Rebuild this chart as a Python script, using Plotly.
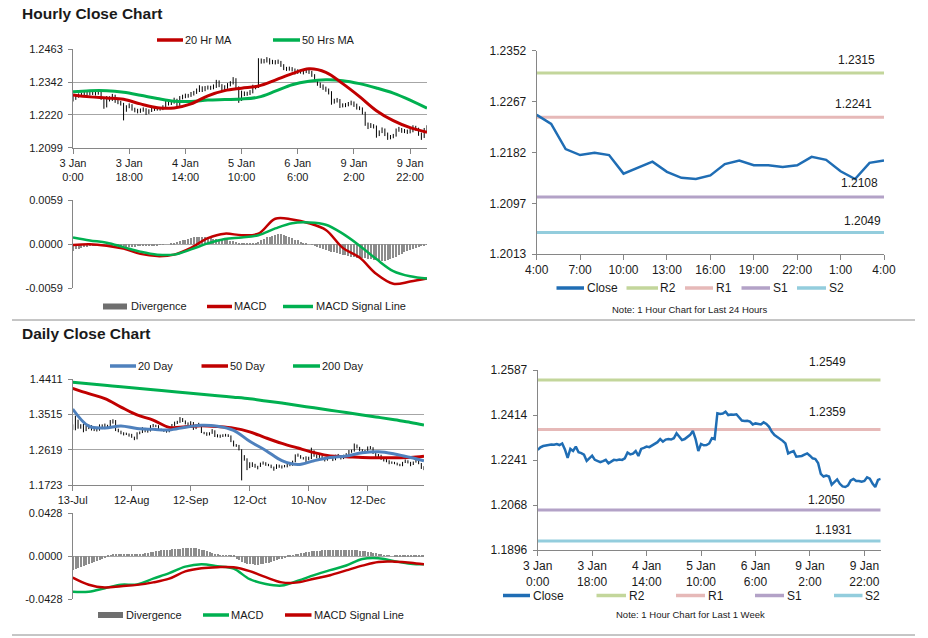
import plotly.graph_objects as go

W, H = 928, 638
FONT = "Liberation Sans, Arial, Helvetica, sans-serif"
TXT = "#1a1a1a"
AXIS = "#868686"
GRID = "#a6a6a6"
RED = "#c00000"
GREEN = "#00b050"
BLUE20 = "#4f81bd"
CLOSE_C = "#1f6db4"
DIV_C = "#8c8c8c"

# ---------------------------------------------------------------- hourly data (3 Jan 0:00 .. 10 Jan 4:00)
hourly_tick_idx = [0, 20, 40, 60, 80, 100, 120]
hourly_tick_labels = ["3 Jan<br>0:00", "3 Jan<br>18:00", "4 Jan<br>14:00", "5 Jan<br>10:00",
                      "6 Jan<br>6:00", "9 Jan<br>2:00", "9 Jan<br>22:00"]

hourly_close = [
    1.2280, 1.2290, 1.2295, 1.2297, 1.2299, 1.2301, 1.2300, 1.2303, 1.2299, 1.2305,
    1.2282, 1.2250, 1.2284, 1.2276, 1.2293, 1.2271, 1.2268, 1.2262, 1.2238, 1.2250,
    1.2258, 1.2242, 1.2238, 1.2233, 1.2237, 1.2242, 1.2229, 1.2236, 1.2242, 1.2241,
    1.2243, 1.2242, 1.2248, 1.2270, 1.2263, 1.2266, 1.2276, 1.2257, 1.2284, 1.2288,
    1.2293, 1.2291, 1.2297, 1.2302, 1.2310, 1.2322, 1.2312, 1.2320, 1.2322, 1.2320,
    1.2325, 1.2344, 1.2330, 1.2318, 1.2322, 1.2331, 1.2338, 1.2353, 1.2322, 1.2276,
    1.2303, 1.2298, 1.2299, 1.2305, 1.2325, 1.2322, 1.2421, 1.2418, 1.2420, 1.2427,
    1.2414, 1.2416, 1.2415, 1.2417, 1.2405, 1.2393, 1.2391, 1.2392, 1.2389, 1.2378,
    1.2382, 1.2380, 1.2378, 1.2386, 1.2380, 1.2369, 1.2350, 1.2337, 1.2330, 1.2322,
    1.2315, 1.2305, 1.2267, 1.2272, 1.2276, 1.2254, 1.2256, 1.2257, 1.2262, 1.2267,
    1.2258, 1.2248, 1.2245, 1.2230, 1.2188, 1.2178, 1.2182, 1.2178, 1.2147, 1.2157,
    1.2167, 1.2150, 1.2140, 1.2138, 1.2144, 1.2163, 1.2169, 1.2161, 1.2161, 1.2158,
    1.2161, 1.2175, 1.2170, 1.2151, 1.2138, 1.2165, 1.2169,
]
hourly_high = [
    1.2295, 1.2296, 1.2300, 1.2303, 1.2306, 1.2307, 1.2308, 1.2309, 1.2308, 1.2311,
    1.2306, 1.2286, 1.2290, 1.2289, 1.2298, 1.2295, 1.2277, 1.2272, 1.2265, 1.2256,
    1.2263, 1.2260, 1.2247, 1.2243, 1.2244, 1.2248, 1.2245, 1.2241, 1.2248, 1.2248,
    1.2250, 1.2249, 1.2256, 1.2276, 1.2274, 1.2273, 1.2284, 1.2280, 1.2290, 1.2295,
    1.2299, 1.2298, 1.2305, 1.2309, 1.2318, 1.2330, 1.2326, 1.2327, 1.2329, 1.2328,
    1.2333, 1.2350, 1.2348, 1.2334, 1.2330, 1.2338, 1.2345, 1.2360, 1.2356, 1.2326,
    1.2310, 1.2307, 1.2306, 1.2312, 1.2332, 1.2330, 1.2430, 1.2429, 1.2427, 1.2434,
    1.2430, 1.2424, 1.2423, 1.2425, 1.2420, 1.2408, 1.2398, 1.2399, 1.2397, 1.2392,
    1.2389, 1.2387, 1.2385, 1.2393, 1.2390, 1.2383, 1.2371, 1.2353, 1.2340, 1.2333,
    1.2325, 1.2318, 1.2308, 1.2280, 1.2283, 1.2279, 1.2263, 1.2264, 1.2268, 1.2273,
    1.2270, 1.2262, 1.2252, 1.2248, 1.2232, 1.2192, 1.2190, 1.2186, 1.2181, 1.2163,
    1.2174, 1.2170, 1.2155, 1.2146, 1.2150, 1.2170, 1.2176, 1.2172, 1.2168, 1.2166,
    1.2168, 1.2182, 1.2180, 1.2173, 1.2155, 1.2172, 1.2182,
]
hourly_low = [
    1.2270, 1.2276, 1.2284, 1.2289, 1.2290, 1.2293, 1.2292, 1.2294, 1.2292, 1.2295,
    1.2276, 1.2243, 1.2248, 1.2270, 1.2272, 1.2265, 1.2260, 1.2255, 1.2200, 1.2232,
    1.2245, 1.2236, 1.2230, 1.2226, 1.2228, 1.2232, 1.2220, 1.2224, 1.2231, 1.2235,
    1.2236, 1.2236, 1.2238, 1.2245, 1.2255, 1.2257, 1.2262, 1.2250, 1.2254, 1.2278,
    1.2282, 1.2284, 1.2287, 1.2292, 1.2298, 1.2305, 1.2305, 1.2308, 1.2314, 1.2313,
    1.2315, 1.2320, 1.2323, 1.2310, 1.2312, 1.2317, 1.2326, 1.2333, 1.2315, 1.2265,
    1.2272, 1.2290, 1.2291, 1.2294, 1.2300, 1.2315, 1.2320, 1.2410, 1.2411, 1.2414,
    1.2407, 1.2408, 1.2407, 1.2409, 1.2398, 1.2386, 1.2383, 1.2384, 1.2381, 1.2370,
    1.2372, 1.2373, 1.2370, 1.2375, 1.2372, 1.2361, 1.2342, 1.2328, 1.2320, 1.2313,
    1.2306, 1.2296, 1.2258, 1.2262, 1.2266, 1.2246, 1.2248, 1.2249, 1.2252, 1.2256,
    1.2250, 1.2240, 1.2238, 1.2222, 1.2180, 1.2168, 1.2172, 1.2170, 1.2136, 1.2142,
    1.2153, 1.2142, 1.2128, 1.2130, 1.2134, 1.2140, 1.2158, 1.2154, 1.2153, 1.2150,
    1.2152, 1.2156, 1.2162, 1.2143, 1.2128, 1.2135, 1.2160,
]

hourly_ma_idx = [0, 6, 12, 18, 24, 30, 36, 42, 48, 54, 60, 66, 72, 78, 84, 90, 96, 102, 108, 114, 120, 126]
ma20_hourly = [1.2294, 1.2287, 1.2283, 1.2278, 1.2261, 1.2247, 1.2246, 1.2261, 1.2291, 1.2310, 1.2319,
               1.2327, 1.2349, 1.2373, 1.2391, 1.2378, 1.2336, 1.2288, 1.2236, 1.2199, 1.2173, 1.2156]
ma50_hourly = [1.2306, 1.2310, 1.2310, 1.2304, 1.2293, 1.2281, 1.2271, 1.2270, 1.2275, 1.2277, 1.2279,
               1.2286, 1.2308, 1.2332, 1.2345, 1.2350, 1.2347, 1.2336, 1.2320, 1.2301, 1.2275, 1.2245]
macd_hourly = [-0.0001, 0.0000, -0.0002, -0.0006, -0.0013, -0.0016, -0.0014, -0.0005, 0.0008, 0.0014, 0.0012,
               0.0014, 0.0034, 0.0033, 0.0028, 0.0019, -0.0005, -0.0018, -0.0040, -0.0053, -0.0050, -0.0046]
signal_hourly = [0.0009, 0.0005, 0.0002, -0.0004, -0.0010, -0.0014, -0.0014, -0.0007, 0.0001, 0.0007, 0.0009,
                 0.0012, 0.0021, 0.0028, 0.0029, 0.0026, 0.0014, -0.0002, -0.0020, -0.0036, -0.0043, -0.0046]
div_hourly = [
    -0.0009, -0.0007, -0.0006, -0.0005, -0.0004, -0.0004, -0.0003, -0.0003, -0.0002, -0.0002,
    -0.0001, -0.0001, -0.0001, -0.0001, -0.0002, -0.0002, -0.0003, -0.0003, -0.0003, -0.0004,
    -0.0004, -0.0004, -0.0004, -0.0003, -0.0003, -0.0003, -0.0003, -0.0002, -0.0002, -0.0002,
    -0.0002, -0.0001, -0.0001, 0.0000, 0.0000, 0.0001, 0.0002, 0.0003, 0.0004, 0.0005,
    0.0006, 0.0007, 0.0008, 0.0009, 0.0010, 0.0010, 0.0010, 0.0010, 0.0009, 0.0008,
    0.0007, 0.0007, 0.0006, 0.0006, 0.0005, 0.0005, 0.0004, 0.0004, 0.0003, 0.0002,
    0.0002, 0.0001, 0.0001, 0.0001, 0.0001, 0.0002, 0.0003, 0.0005, 0.0007, 0.0009,
    0.0010, 0.0011, 0.0012, 0.0013, 0.0013, 0.0012, 0.0011, 0.0010, 0.0008, 0.0006,
    0.0005, 0.0003, 0.0002, 0.0001, 0.0000, -0.0001, -0.0002, -0.0004, -0.0005, -0.0007,
    -0.0008, -0.0009, -0.0010, -0.0011, -0.0012, -0.0013, -0.0014, -0.0015, -0.0016, -0.0017,
    -0.0017, -0.0018, -0.0018, -0.0019, -0.0019, -0.0020, -0.0020, -0.0021, -0.0021, -0.0022,
    -0.0022, -0.0022, -0.0021, -0.0020, -0.0019, -0.0017, -0.0015, -0.0013, -0.0011, -0.0009,
    -0.0008, -0.0006, -0.0005, -0.0004, -0.0003, -0.0002, -0.0001,
]

# last 24 hours (9 Jan 4:00 .. 10 Jan 4:00) = last 25 hourly closes
last24_tick_idx = [0, 3, 6, 9, 12, 15, 18, 21, 24]
last24_tick_labels = ["4:00", "7:00", "10:00", "13:00", "16:00", "19:00", "22:00", "1:00", "4:00"]
level_names = ["R2", "R1", "S1", "S2"]
level_colors = ["#c3d69b", "#e6b9b8", "#b3a2c7", "#93cddd"]
levels_24h = [1.2315, 1.2241, 1.2108, 1.2049]
levels_week = [1.2549, 1.2359, 1.2050, 1.1931]

# ---------------------------------------------------------------- daily data (13 Jul .. 10 Jan)
daily_tick_idx = [0, 22, 44, 66, 88, 110]
daily_tick_labels = ["13-Jul", "12-Aug", "12-Sep", "12-Oct", "10-Nov", "12-Dec"]
daily_high = [
    1.3260, 1.3480, 1.3380, 1.3265, 1.3270, 1.3225, 1.3260, 1.3240, 1.3150, 1.3180,
    1.3260, 1.3260, 1.3280, 1.3250, 1.3370, 1.3390, 1.3370, 1.3150, 1.3100, 1.3060,
    1.3050, 1.3030, 1.3020, 1.2950, 1.3060, 1.3080, 1.3190, 1.3170, 1.3120, 1.3240,
    1.3270, 1.3250, 1.3240, 1.3150, 1.3140, 1.3120, 1.3150, 1.3270, 1.3330, 1.3350,
    1.3445, 1.3420, 1.3360, 1.3310, 1.3340, 1.3320, 1.3260, 1.3300, 1.3260, 1.3070,
    1.3060, 1.3060, 1.3140, 1.3110, 1.3010, 1.3000, 1.3010, 1.3020, 1.3010, 1.2980,
    1.2850, 1.2760, 1.2740, 1.2630, 1.2480, 1.2400, 1.2300, 1.2300, 1.2260, 1.2210,
    1.2290, 1.2320, 1.2300, 1.2260, 1.2240, 1.2190, 1.2250, 1.2240, 1.2220, 1.2230,
    1.2270, 1.2290, 1.2340, 1.2500, 1.2520, 1.2480, 1.2430, 1.2450, 1.2440, 1.2670,
    1.2600, 1.2500, 1.2490, 1.2470, 1.2400, 1.2450, 1.2480, 1.2450, 1.2490, 1.2510,
    1.2480, 1.2490, 1.2530, 1.2610, 1.2620, 1.2775, 1.2750, 1.2690, 1.2630, 1.2610,
    1.2700, 1.2710, 1.2680, 1.2560, 1.2510, 1.2490, 1.2400, 1.2380, 1.2350, 1.2320,
    1.2310, 1.2290, 1.2260, 1.2310, 1.2370, 1.2350, 1.2310, 1.2320, 1.2430, 1.2410,
    1.2280, 1.2200,
]
daily_low = [
    1.3120, 1.3110, 1.3150, 1.3150, 1.3060, 1.3090, 1.3140, 1.3105, 1.3090, 1.3080,
    1.3100, 1.3140, 1.3140, 1.3180, 1.3180, 1.3280, 1.3090, 1.3060, 1.3010, 1.2980,
    1.2990, 1.2950, 1.2920, 1.2860, 1.2880, 1.3010, 1.3040, 1.3060, 1.3050, 1.3080,
    1.3190, 1.3190, 1.3100, 1.3090, 1.3070, 1.3050, 1.3060, 1.3120, 1.3220, 1.3270,
    1.3300, 1.3320, 1.3260, 1.3230, 1.3230, 1.3120, 1.3140, 1.3200, 1.3040, 1.3010,
    1.2970, 1.2980, 1.3020, 1.2940, 1.2930, 1.2920, 1.2940, 1.2950, 1.2940, 1.2810,
    1.2700, 1.2690, 1.2600, 1.1840, 1.2340, 1.2100, 1.2150, 1.2180, 1.2160, 1.2120,
    1.2180, 1.2240, 1.2210, 1.2200, 1.2150, 1.2085, 1.2130, 1.2160, 1.2140, 1.2170,
    1.2170, 1.2200, 1.2210, 1.2300, 1.2440, 1.2390, 1.2370, 1.2300, 1.2350, 1.2380,
    1.2440, 1.2400, 1.2410, 1.2370, 1.2320, 1.2340, 1.2400, 1.2330, 1.2350, 1.2430,
    1.2370, 1.2380, 1.2440, 1.2480, 1.2540, 1.2570, 1.2650, 1.2580, 1.2540, 1.2530,
    1.2560, 1.2630, 1.2510, 1.2390, 1.2400, 1.2360, 1.2320, 1.2300, 1.2250, 1.2260,
    1.2250, 1.2220, 1.2200, 1.2200, 1.2280, 1.2270, 1.2200, 1.2230, 1.2290, 1.2250,
    1.2130, 1.2100,
]
daily_ma_idx = [0, 6, 12, 18, 24, 30, 36, 42, 48, 54, 60, 66, 72, 78, 84, 90, 96, 102, 108, 114, 120, 126, 131]
ma20_daily = [1.3650, 1.3215, 1.3170, 1.3220, 1.3155, 1.3135, 1.3118, 1.3190, 1.3240, 1.3215, 1.3110, 1.2830,
              1.2600, 1.2340, 1.2240, 1.2340, 1.2420, 1.2460, 1.2540, 1.2565, 1.2510, 1.2420, 1.2335]
ma50_daily = [1.4175, 1.4040, 1.3915, 1.3700, 1.3500, 1.3370, 1.3185, 1.3200, 1.3225, 1.3205, 1.3165, 1.3070,
              1.2920, 1.2780, 1.2660, 1.2545, 1.2460, 1.2442, 1.2420, 1.2416, 1.2416, 1.2420, 1.2450]
ma200_daily = [1.4327, 1.4290, 1.4250, 1.4212, 1.4175, 1.4138, 1.4100, 1.4062, 1.4025, 1.3988, 1.3950, 1.3910,
               1.3855, 1.3800, 1.3740, 1.3680, 1.3620, 1.3560, 1.3500, 1.3440, 1.3375, 1.3310, 1.3245]
macd_daily = [-0.0356, -0.0355, -0.0320, -0.0285, -0.0282, -0.0225, -0.0170, -0.0105, -0.0080, -0.0100, -0.0125,
              -0.0230, -0.0278, -0.0294, -0.0245, -0.0190, -0.0140, -0.0093, -0.0028, -0.0020, -0.0050, -0.0076,
              -0.0082]
signal_daily = [-0.0214, -0.0285, -0.0313, -0.0300, -0.0287, -0.0262, -0.0225, -0.0152, -0.0120, -0.0110, -0.0112,
                -0.0150, -0.0210, -0.0262, -0.0262, -0.0225, -0.0190, -0.0142, -0.0095, -0.0058, -0.0055, -0.0065,
                -0.0082]
div_daily = [
    -0.0140, -0.0130, -0.0120, -0.0110, -0.0100, -0.0090, -0.0080, -0.0070, -0.0060, -0.0050,
    -0.0040, -0.0030, -0.0020, -0.0010, 0.0005, 0.0010, 0.0012, 0.0014, 0.0015, 0.0015,
    0.0014, 0.0013, 0.0012, 0.0012, 0.0013, 0.0015, 0.0020, 0.0025, 0.0030, 0.0035,
    0.0040, 0.0045, 0.0050, 0.0055, 0.0058, 0.0060, 0.0062, 0.0065, 0.0068, 0.0070,
    0.0072, 0.0075, 0.0078, 0.0080, 0.0080, 0.0078, 0.0075, 0.0070, 0.0062, 0.0055,
    0.0045, 0.0035, 0.0025, 0.0018, 0.0012, 0.0008, 0.0005, 0.0003, 0.0001, -0.0005,
    -0.0015, -0.0030, -0.0045, -0.0060, -0.0070, -0.0078, -0.0083, -0.0086, -0.0088, -0.0088,
    -0.0085, -0.0080, -0.0074, -0.0067, -0.0060, -0.0052, -0.0044, -0.0036, -0.0028, -0.0020,
    -0.0012, -0.0005, 0.0002, 0.0010, 0.0018, 0.0025, 0.0032, 0.0038, 0.0043, 0.0047,
    0.0050, 0.0052, 0.0053, 0.0054, 0.0055, 0.0055, 0.0055, 0.0056, 0.0056, 0.0057,
    0.0057, 0.0058, 0.0058, 0.0058, 0.0057, 0.0056, 0.0055, 0.0053, 0.0050, 0.0046,
    0.0042, 0.0036, 0.0030, 0.0024, 0.0018, 0.0012, 0.0008, 0.0004, 0.0002, 0.0000,
    -0.0003, -0.0005, -0.0007, -0.0008, -0.0009, -0.0010, -0.0010, -0.0009, -0.0008, -0.0006,
    -0.0004, -0.0002,
]

assert len(hourly_close) == len(hourly_high) == len(hourly_low) == len(div_hourly) == 127
assert len(daily_high) == len(daily_low) == len(div_daily) == 132

# ---------------------------------------------------------------- figure
fig = go.Figure()
n_h = len(hourly_close)
n_d = len(daily_high)
h_idx = list(range(n_h))
d_idx = list(range(n_d))


def hilo_segments(highs, lows):
    xs, ys = [], []
    for i, (hi, lo) in enumerate(zip(highs, lows)):
        xs += [i, i, None]
        ys += [lo, hi, None]
    return xs, ys


def line(x, y, color, width, ax, shape="linear"):
    return go.Scatter(x=x, y=y, mode="lines", line=dict(color=color, width=width, shape=shape),
                      xaxis="x" + ax, yaxis="y" + ax, hoverinfo="skip", showlegend=False)


# Panel 1: hourly bars + MAs
sx, sy = hilo_segments(hourly_high, hourly_low)
fig.add_trace(go.Scatter(x=sx, y=sy, mode="lines", line=dict(color="black", width=1),
                         xaxis="x", yaxis="y", hoverinfo="skip", showlegend=False))
fig.add_trace(line(hourly_ma_idx, ma50_hourly, GREEN, 3, "", "spline"))
fig.add_trace(line(hourly_ma_idx, ma20_hourly, RED, 3, "", "spline"))

# Panel 2: hourly MACD
fig.add_trace(go.Bar(x=h_idx, y=div_hourly, marker=dict(color=DIV_C, line=dict(width=0)), width=0.4,
                     xaxis="x2", yaxis="y2", hoverinfo="skip", showlegend=False))
fig.add_trace(line(hourly_ma_idx, macd_hourly, RED, 2.5, "2", "spline"))
fig.add_trace(line(hourly_ma_idx, signal_hourly, GREEN, 2.5, "2", "spline"))

# Panel 3: last 24 hours
last24 = hourly_close[-25:]
x24 = list(range(len(last24)))
for lv, col in zip(levels_24h, level_colors):
    fig.add_trace(line(x24, [lv] * len(x24), col, 3, "3"))
fig.add_trace(line(x24, last24, CLOSE_C, 2.5, "3"))

# Panel 4: daily bars + MAs
sx, sy = hilo_segments(daily_high, daily_low)
fig.add_trace(go.Scatter(x=sx, y=sy, mode="lines", line=dict(color="black", width=1),
                         xaxis="x4", yaxis="y4", hoverinfo="skip", showlegend=False))
fig.add_trace(line(daily_ma_idx, ma200_daily, GREEN, 3, "4", "spline"))
fig.add_trace(line(daily_ma_idx, ma50_daily, RED, 3, "4", "spline"))
fig.add_trace(line(daily_ma_idx, ma20_daily, BLUE20, 3, "4", "spline"))

# Panel 5: daily MACD
fig.add_trace(go.Bar(x=d_idx, y=div_daily, marker=dict(color=DIV_C, line=dict(width=0)), width=0.4,
                     xaxis="x5", yaxis="y5", hoverinfo="skip", showlegend=False))
fig.add_trace(line(daily_ma_idx, macd_daily, GREEN, 2.5, "5", "spline"))
fig.add_trace(line(daily_ma_idx, signal_daily, RED, 2.5, "5", "spline"))

# Panel 6: last week
for lv, col in zip(levels_week, level_colors):
    fig.add_trace(line(h_idx, [lv] * n_h, col, 3, "6"))
fig.add_trace(line(h_idx, hourly_close, CLOSE_C, 2.5, "6"))

# ---------------------------------------------------------------- axes
boxes = {  # left, right, top, bottom in px
    1: (73, 427, 49.3, 147.7),
    2: (73, 427, 200, 288.3),
    3: (536.7, 884, 50.7, 254),
    4: (72.7, 424, 379, 485),
    5: (72.7, 424, 513.3, 599),
    6: (537.7, 880.7, 370, 550),
}


def ticks_fmt(vals, fmt):
    return [fmt.format(v) for v in vals]


y_ticks = {
    1: [1.2099, 1.2220, 1.2342, 1.2463],
    2: [-0.0059, 0.0, 0.0059],
    3: [1.2013, 1.2097, 1.2182, 1.2267, 1.2352],
    4: [1.1723, 1.2619, 1.3515, 1.4411],
    5: [-0.0428, 0.0, 0.0428],
    6: [1.1896, 1.2068, 1.2241, 1.2414, 1.2587],
}
x_ranges = {1: [0, n_h - 1], 2: [0, n_h - 1], 3: [0, 24], 4: [0, n_d - 1], 5: [0, n_d - 1], 6: [0, n_h - 1]}
x_ticks = {1: (hourly_tick_idx, hourly_tick_labels), 2: None, 3: (last24_tick_idx, last24_tick_labels),
           4: (daily_tick_idx, daily_tick_labels), 5: None, 6: (hourly_tick_idx, hourly_tick_labels)}

layout_axes = {}
for k, (l, r, t, b) in boxes.items():
    xname = "xaxis" if k == 1 else f"xaxis{k}"
    yname = "yaxis" if k == 1 else f"yaxis{k}"
    right_panel = k in (3, 6)
    fs = 12 if right_panel else 11
    yv = y_ticks[k]
    span = yv[-1] - yv[0]
    xa = dict(domain=[l / W, r / W], anchor="y" if k == 1 else f"y{k}", automargin=False,
              range=x_ranges[k], showgrid=False, zeroline=False, fixedrange=True,
              tickfont=dict(family=FONT, size=fs, color=TXT))
    if x_ticks[k] is None:
        xa.update(showline=False, showticklabels=False, ticks="")
    else:
        tv, tt = x_ticks[k]
        xa.update(showline=True, linecolor=AXIS, linewidth=1, tickmode="array", tickvals=tv, ticktext=tt,
                  ticks="outside", ticklen=5, tickcolor=AXIS, tickwidth=1)
    ya = dict(domain=[1 - b / H, 1 - t / H], anchor="x" if k == 1 else f"x{k}", automargin=False,
              range=[yv[0] - span * 1e-6, yv[-1] + span * 1e-6], zeroline=False, fixedrange=True,
              showline=True, linecolor=AXIS, linewidth=1,
              tickmode="array", tickvals=yv, ticktext=ticks_fmt(yv, "{:.4f}"),
              ticks="outside", ticklen=4, tickcolor=AXIS, tickwidth=1, ticklabelstandoff=3,
              tickfont=dict(family=FONT, size=fs, color=TXT),
              showgrid=not right_panel, gridcolor=GRID, gridwidth=1)
    layout_axes[xname] = xa
    layout_axes[yname] = ya

# ---------------------------------------------------------------- annotations & shapes (titles, legends)
ann = []
shapes = []


def px(x):
    return x / W


def py(y):
    return 1 - y / H


def text(x, y, s, size=11, anchor="left", bold=False):
    ann.append(dict(x=px(x), y=py(y), xref="paper", yref="paper", text=("<b>%s</b>" % s) if bold else s,
                    showarrow=False, xanchor=anchor, yanchor="middle",
                    font=dict(family=FONT, size=size, color=TXT), borderpad=0))


def swatch_line(x0, x1, y, color, width=3.5):
    shapes.append(dict(type="line", xref="paper", yref="paper", x0=px(x0), x1=px(x1), y0=py(y), y1=py(y),
                       line=dict(color=color, width=width)))


def swatch_box(x0, x1, y, color, h=6):
    shapes.append(dict(type="rect", xref="paper", yref="paper", x0=px(x0), x1=px(x1),
                       y0=py(y + h / 2), y1=py(y - h / 2), line=dict(width=0), fillcolor=color))


text(21, 13, "Hourly Close Chart", 15.5, bold=True)
text(21, 333, "Daily Close Chart", 15.5, bold=True)

# panel 1 legend
swatch_line(157, 183, 40, RED)
text(183.5, 40, "20 Hr MA")
swatch_line(273, 300, 40, GREEN)
text(300.5, 40, "50 Hrs MA")
# panel 2 legend
swatch_box(103, 127, 306.5, "#6f6f6f")
text(129.5, 306.5, "Divergence")
swatch_line(207, 232, 306.5, RED)
text(233.5, 306.5, "MACD")
swatch_line(283, 313, 306.5, GREEN)
text(314.5, 306.5, "MACD Signal Line")
# panel 3 legend
swatch_line(556.5, 584, 288, CLOSE_C)
text(586, 288, "Close", 12)
for (x0, x1, tx), nm, col in zip([(626.5, 658, 659), (685, 713, 714.5), (741.5, 770, 771.5), (797, 826, 827.5)],
                                 level_names, level_colors):
    swatch_line(x0, x1, 288, col)
    text(tx, 288, nm, 12)
text(689, 309.5, "Note: 1 Hour Chart for Last 24 Hours", 9.5, anchor="center")
# panel 4 legend
swatch_line(110, 136, 366, BLUE20)
text(136.5, 366, "20 Day")
swatch_line(201.5, 228, 366, RED)
text(228.5, 366, "50 Day")
swatch_line(293, 320, 366, GREEN)
text(320.5, 366, "200 Day")
# panel 5 legend
swatch_box(98, 123, 615, "#6f6f6f")
text(124.5, 615, "Divergence")
swatch_line(203, 229, 615, GREEN)
text(230, 615, "MACD")
swatch_line(285, 311.5, 615, RED)
text(312.5, 615, "MACD Signal Line")
# panel 6 legend
swatch_line(503, 530, 595.5, CLOSE_C)
text(532, 595.5, "Close", 12)
for (x0, x1, tx), nm, col in zip([(596.5, 626, 627.5), (676, 705, 706.5), (755, 784, 785.5), (834, 862.5, 864)],
                                 level_names, level_colors):
    swatch_line(x0, x1, 595.5, col)
    text(tx, 595.5, nm, 12)
text(690, 614.5, "Note: 1 Hour Chart for Last 1 Week", 9.5, anchor="center")

# level value labels (data labels)
for lv, xs, ys in zip(levels_24h, [22.1, 21.9, 22.3, 22.5], [13, 13, 14, 11]):
    ann.append(dict(x=xs, y=lv, xref="x3", yref="y3", text=f"{lv:.4f}", showarrow=False, yshift=ys,
                    xanchor="center", yanchor="middle", font=dict(family=FONT, size=12, color=TXT)))
for lv, xs, ys in zip(levels_week, [106.6, 106.6, 106.2, 108.6], [18, 17, 10, 11]):
    ann.append(dict(x=xs, y=lv, xref="x6", yref="y6", text=f"{lv:.4f}", showarrow=False, yshift=ys,
                    xanchor="center", yanchor="middle", font=dict(family=FONT, size=12, color=TXT)))

# separators
for y in (320, 635):
    shapes.append(dict(type="line", xref="paper", yref="paper", x0=px(12), x1=px(915), y0=py(y), y1=py(y),
                       line=dict(color="#8c8c8c", width=1)))

fig.update_layout(
    width=W, height=H, autosize=False,
    margin=dict(l=0, r=0, t=0, b=0, pad=0, autoexpand=False),
    paper_bgcolor="white", plot_bgcolor="white",
    showlegend=False, bargap=0,
    font=dict(family=FONT, size=11, color=TXT),
    annotations=ann, shapes=shapes,
    **layout_axes,
)

fig.write_html("out.html", config={"displayModeBar": False},
               post_script="document.body.style.margin='0px';document.body.style.overflow='hidden';")
